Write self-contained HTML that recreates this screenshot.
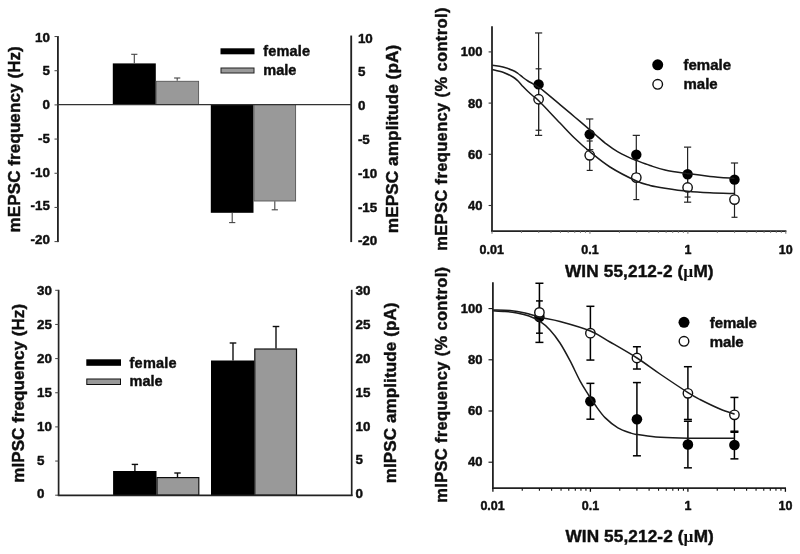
<!DOCTYPE html>
<html><head><meta charset="utf-8"><title>Figure</title>
<style>
html,body{margin:0;padding:0;background:#fff;}
body{width:800px;height:554px;overflow:hidden;font-family:"Liberation Sans",sans-serif;}
svg{display:block;}
text{stroke:#111;stroke-width:0.45px;stroke-linejoin:round;}
</style></head><body>
<svg width="800" height="554" viewBox="0 0 800 554" font-family="Liberation Sans, sans-serif" font-weight="bold">
<defs><filter id="soft" x="0" y="0" width="800" height="554" filterUnits="userSpaceOnUse"><feGaussianBlur stdDeviation="0.45"/></filter></defs>
<rect x="0" y="0" width="800" height="554" fill="#ffffff"/>
<g filter="url(#soft)">
<rect x="0" y="0" width="800" height="554" fill="#ffffff"/>
<rect x="112.80" y="63.40" width="43.00" height="41.20" fill="#000"/>
<rect x="156.20" y="81.30" width="42.40" height="23.30" fill="#999999" stroke="#555" stroke-width="0.9"/>
<rect x="210.80" y="104.60" width="42.70" height="108.20" fill="#000"/>
<rect x="253.90" y="104.60" width="41.70" height="96.40" fill="#999999" stroke="#555" stroke-width="0.9"/>
<line x1="134.30" y1="54.30" x2="134.30" y2="63.30" stroke="#444" stroke-width="1.1" stroke-linecap="butt"/>
<line x1="131.20" y1="54.30" x2="137.40" y2="54.30" stroke="#444" stroke-width="1.1" stroke-linecap="butt"/>
<line x1="177.20" y1="78.00" x2="177.20" y2="80.80" stroke="#444" stroke-width="1.1" stroke-linecap="butt"/>
<line x1="174.10" y1="78.00" x2="180.30" y2="78.00" stroke="#444" stroke-width="1.1" stroke-linecap="butt"/>
<line x1="232.20" y1="222.60" x2="232.20" y2="213.00" stroke="#444" stroke-width="1.1" stroke-linecap="butt"/>
<line x1="229.10" y1="222.60" x2="235.30" y2="222.60" stroke="#444" stroke-width="1.1" stroke-linecap="butt"/>
<line x1="274.80" y1="209.80" x2="274.80" y2="201.30" stroke="#444" stroke-width="1.1" stroke-linecap="butt"/>
<line x1="271.70" y1="209.80" x2="277.90" y2="209.80" stroke="#444" stroke-width="1.1" stroke-linecap="butt"/>
<line x1="57.90" y1="36.05" x2="57.90" y2="242.10" stroke="#222" stroke-width="1.85" stroke-linecap="butt"/>
<line x1="351.20" y1="35.55" x2="351.20" y2="242.10" stroke="#222" stroke-width="1.85" stroke-linecap="butt"/>
<line x1="57.90" y1="104.60" x2="351.20" y2="104.60" stroke="#333" stroke-width="1.2" stroke-linecap="butt"/>
<line x1="54.50" y1="36.55" x2="57.90" y2="36.55" stroke="#444" stroke-width="1" stroke-linecap="butt"/>
<text x="49.90" y="41.65" font-size="13.4" text-anchor="end" fill="#111">10</text>
<text x="357.90" y="42.70" font-size="13.4" text-anchor="start" fill="#111">10</text>
<line x1="54.50" y1="70.72" x2="57.90" y2="70.72" stroke="#444" stroke-width="1" stroke-linecap="butt"/>
<text x="49.90" y="75.40" font-size="13.4" text-anchor="end" fill="#111">5</text>
<text x="357.90" y="76.48" font-size="13.4" text-anchor="start" fill="#111">5</text>
<line x1="54.50" y1="104.90" x2="57.90" y2="104.90" stroke="#444" stroke-width="1" stroke-linecap="butt"/>
<text x="49.90" y="109.15" font-size="13.4" text-anchor="end" fill="#111">0</text>
<text x="357.90" y="110.27" font-size="13.4" text-anchor="start" fill="#111">0</text>
<line x1="54.50" y1="139.07" x2="57.90" y2="139.07" stroke="#444" stroke-width="1" stroke-linecap="butt"/>
<text x="49.90" y="142.90" font-size="13.4" text-anchor="end" fill="#111">-5</text>
<text x="357.90" y="144.05" font-size="13.4" text-anchor="start" fill="#111">-5</text>
<line x1="54.50" y1="173.25" x2="57.90" y2="173.25" stroke="#444" stroke-width="1" stroke-linecap="butt"/>
<text x="49.90" y="176.65" font-size="13.4" text-anchor="end" fill="#111">-10</text>
<text x="357.90" y="177.83" font-size="13.4" text-anchor="start" fill="#111">-10</text>
<line x1="54.50" y1="207.43" x2="57.90" y2="207.43" stroke="#444" stroke-width="1" stroke-linecap="butt"/>
<text x="49.90" y="210.40" font-size="13.4" text-anchor="end" fill="#111">-15</text>
<text x="357.90" y="211.62" font-size="13.4" text-anchor="start" fill="#111">-15</text>
<line x1="54.50" y1="241.60" x2="57.90" y2="241.60" stroke="#444" stroke-width="1" stroke-linecap="butt"/>
<text x="49.90" y="244.15" font-size="13.4" text-anchor="end" fill="#111">-20</text>
<text x="357.90" y="245.40" font-size="13.4" text-anchor="start" fill="#111">-20</text>
<rect x="220.50" y="48.30" width="34.00" height="6.00" fill="#000"/>
<rect x="221.00" y="68.00" width="33.00" height="5.00" fill="#999999" stroke="#222" stroke-width="1"/>
<text x="263.30" y="56.30" font-size="14.5" text-anchor="start" textLength="46.8" lengthAdjust="spacing" fill="#111">female</text>
<text x="263.30" y="75.00" font-size="14.5" text-anchor="start" textLength="33.0" lengthAdjust="spacing" fill="#111">male</text>
<text transform="translate(19.90,232.40) rotate(-90)" font-size="17" textLength="186.2" lengthAdjust="spacing" fill="#111">mEPSC frequency (Hz)</text>
<text transform="translate(398.30,233.20) rotate(-90)" font-size="17.3" textLength="188.4" lengthAdjust="spacing" fill="#111">mEPSC amplitude (pA)</text>
<rect x="113.10" y="471.00" width="43.40" height="24.20" fill="#000"/>
<rect x="157.00" y="477.60" width="41.80" height="17.60" fill="#999999" stroke="#111" stroke-width="1.2"/>
<rect x="211.00" y="360.50" width="43.30" height="134.70" fill="#000"/>
<rect x="254.80" y="349.00" width="41.70" height="146.20" fill="#999999" stroke="#111" stroke-width="1.2"/>
<line x1="134.90" y1="464.40" x2="134.90" y2="471.00" stroke="#111" stroke-width="1.4" stroke-linecap="butt"/>
<line x1="131.70" y1="464.40" x2="138.10" y2="464.40" stroke="#111" stroke-width="1.4" stroke-linecap="butt"/>
<line x1="177.50" y1="473.00" x2="177.50" y2="477.00" stroke="#111" stroke-width="1.4" stroke-linecap="butt"/>
<line x1="174.30" y1="473.00" x2="180.70" y2="473.00" stroke="#111" stroke-width="1.4" stroke-linecap="butt"/>
<line x1="233.00" y1="343.00" x2="233.00" y2="360.50" stroke="#111" stroke-width="1.4" stroke-linecap="butt"/>
<line x1="229.70" y1="343.00" x2="236.30" y2="343.00" stroke="#111" stroke-width="1.4" stroke-linecap="butt"/>
<line x1="276.00" y1="326.50" x2="276.00" y2="348.50" stroke="#111" stroke-width="1.4" stroke-linecap="butt"/>
<line x1="272.70" y1="326.50" x2="279.30" y2="326.50" stroke="#111" stroke-width="1.4" stroke-linecap="butt"/>
<line x1="58.60" y1="289.80" x2="58.60" y2="496.00" stroke="#222" stroke-width="1.7" stroke-linecap="butt"/>
<line x1="351.70" y1="289.80" x2="351.70" y2="496.00" stroke="#222" stroke-width="1.7" stroke-linecap="butt"/>
<line x1="57.80" y1="495.40" x2="352.50" y2="495.40" stroke="#222" stroke-width="1.6" stroke-linecap="butt"/>
<line x1="55.20" y1="290.30" x2="58.60" y2="290.30" stroke="#444" stroke-width="1" stroke-linecap="butt"/>
<text x="37.00" y="295.25" font-size="13.4" text-anchor="start" fill="#111">30</text>
<text x="355.50" y="295.45" font-size="13.4" text-anchor="start" fill="#111">30</text>
<line x1="55.20" y1="324.45" x2="58.60" y2="324.45" stroke="#444" stroke-width="1" stroke-linecap="butt"/>
<text x="37.00" y="329.11" font-size="13.4" text-anchor="start" fill="#111">25</text>
<text x="355.50" y="329.25" font-size="13.4" text-anchor="start" fill="#111">25</text>
<line x1="55.20" y1="358.60" x2="58.60" y2="358.60" stroke="#444" stroke-width="1" stroke-linecap="butt"/>
<text x="37.00" y="362.97" font-size="13.4" text-anchor="start" fill="#111">20</text>
<text x="355.50" y="363.05" font-size="13.4" text-anchor="start" fill="#111">20</text>
<line x1="55.20" y1="392.75" x2="58.60" y2="392.75" stroke="#444" stroke-width="1" stroke-linecap="butt"/>
<text x="37.00" y="396.82" font-size="13.4" text-anchor="start" fill="#111">15</text>
<text x="355.50" y="396.85" font-size="13.4" text-anchor="start" fill="#111">15</text>
<line x1="55.20" y1="426.90" x2="58.60" y2="426.90" stroke="#444" stroke-width="1" stroke-linecap="butt"/>
<text x="37.00" y="430.68" font-size="13.4" text-anchor="start" fill="#111">10</text>
<text x="355.50" y="430.65" font-size="13.4" text-anchor="start" fill="#111">10</text>
<line x1="55.20" y1="461.05" x2="58.60" y2="461.05" stroke="#444" stroke-width="1" stroke-linecap="butt"/>
<text x="37.00" y="464.54" font-size="13.4" text-anchor="start" fill="#111">5</text>
<text x="355.50" y="464.45" font-size="13.4" text-anchor="start" fill="#111">5</text>
<line x1="55.20" y1="495.20" x2="58.60" y2="495.20" stroke="#444" stroke-width="1" stroke-linecap="butt"/>
<text x="37.00" y="498.40" font-size="13.4" text-anchor="start" fill="#111">0</text>
<text x="355.50" y="498.25" font-size="13.4" text-anchor="start" fill="#111">0</text>
<rect x="86.30" y="359.30" width="34.70" height="6.50" fill="#000"/>
<rect x="86.80" y="379.00" width="33.70" height="5.50" fill="#999999" stroke="#111" stroke-width="1"/>
<text x="129.50" y="367.50" font-size="14.5" text-anchor="start" textLength="47.2" lengthAdjust="spacing" fill="#111">female</text>
<text x="129.50" y="386.30" font-size="14.5" text-anchor="start" textLength="33.2" lengthAdjust="spacing" fill="#111">male</text>
<text transform="translate(24.40,482.70) rotate(-90)" font-size="17" textLength="178.8" lengthAdjust="spacing" fill="#111">mIPSC frequency (Hz)</text>
<text transform="translate(396.00,483.30) rotate(-90)" font-size="17" textLength="180.8" lengthAdjust="spacing" fill="#111">mIPSC amplitude (pA)</text>
<line x1="538.60" y1="32.96" x2="538.60" y2="135.36" stroke="#222" stroke-width="1.2" stroke-linecap="butt"/>
<line x1="535.00" y1="32.96" x2="542.20" y2="32.96" stroke="#222" stroke-width="1.2" stroke-linecap="butt"/>
<line x1="535.00" y1="135.36" x2="542.20" y2="135.36" stroke="#222" stroke-width="1.2" stroke-linecap="butt"/>
<line x1="538.60" y1="68.80" x2="538.60" y2="130.24" stroke="#222" stroke-width="1.2" stroke-linecap="butt"/>
<line x1="535.60" y1="68.80" x2="541.60" y2="68.80" stroke="#222" stroke-width="1.2" stroke-linecap="butt"/>
<line x1="535.60" y1="130.24" x2="541.60" y2="130.24" stroke="#222" stroke-width="1.2" stroke-linecap="butt"/>
<line x1="589.70" y1="118.97" x2="589.70" y2="149.69" stroke="#222" stroke-width="1.2" stroke-linecap="butt"/>
<line x1="586.10" y1="118.97" x2="593.30" y2="118.97" stroke="#222" stroke-width="1.2" stroke-linecap="butt"/>
<line x1="586.10" y1="149.69" x2="593.30" y2="149.69" stroke="#222" stroke-width="1.2" stroke-linecap="butt"/>
<line x1="589.70" y1="140.99" x2="589.70" y2="170.43" stroke="#222" stroke-width="1.2" stroke-linecap="butt"/>
<line x1="586.70" y1="140.99" x2="592.70" y2="140.99" stroke="#222" stroke-width="1.2" stroke-linecap="butt"/>
<line x1="586.70" y1="170.43" x2="592.70" y2="170.43" stroke="#222" stroke-width="1.2" stroke-linecap="butt"/>
<line x1="636.30" y1="135.36" x2="636.30" y2="173.76" stroke="#222" stroke-width="1.2" stroke-linecap="butt"/>
<line x1="632.70" y1="135.36" x2="639.90" y2="135.36" stroke="#222" stroke-width="1.2" stroke-linecap="butt"/>
<line x1="632.70" y1="173.76" x2="639.90" y2="173.76" stroke="#222" stroke-width="1.2" stroke-linecap="butt"/>
<line x1="636.30" y1="155.32" x2="636.30" y2="199.61" stroke="#222" stroke-width="1.2" stroke-linecap="butt"/>
<line x1="633.30" y1="155.32" x2="639.30" y2="155.32" stroke="#222" stroke-width="1.2" stroke-linecap="butt"/>
<line x1="633.30" y1="199.61" x2="639.30" y2="199.61" stroke="#222" stroke-width="1.2" stroke-linecap="butt"/>
<line x1="687.60" y1="147.13" x2="687.60" y2="202.17" stroke="#222" stroke-width="1.2" stroke-linecap="butt"/>
<line x1="684.00" y1="147.13" x2="691.20" y2="147.13" stroke="#222" stroke-width="1.2" stroke-linecap="butt"/>
<line x1="684.00" y1="202.17" x2="691.20" y2="202.17" stroke="#222" stroke-width="1.2" stroke-linecap="butt"/>
<line x1="687.60" y1="177.60" x2="687.60" y2="197.05" stroke="#222" stroke-width="1.2" stroke-linecap="butt"/>
<line x1="684.60" y1="177.60" x2="690.60" y2="177.60" stroke="#222" stroke-width="1.2" stroke-linecap="butt"/>
<line x1="684.60" y1="197.05" x2="690.60" y2="197.05" stroke="#222" stroke-width="1.2" stroke-linecap="butt"/>
<line x1="734.50" y1="163.00" x2="734.50" y2="196.28" stroke="#222" stroke-width="1.2" stroke-linecap="butt"/>
<line x1="730.90" y1="163.00" x2="738.10" y2="163.00" stroke="#222" stroke-width="1.2" stroke-linecap="butt"/>
<line x1="730.90" y1="196.28" x2="738.10" y2="196.28" stroke="#222" stroke-width="1.2" stroke-linecap="butt"/>
<line x1="734.50" y1="181.95" x2="734.50" y2="217.28" stroke="#222" stroke-width="1.2" stroke-linecap="butt"/>
<line x1="731.50" y1="181.95" x2="737.50" y2="181.95" stroke="#222" stroke-width="1.2" stroke-linecap="butt"/>
<line x1="731.50" y1="217.28" x2="737.50" y2="217.28" stroke="#222" stroke-width="1.2" stroke-linecap="butt"/>
<circle cx="538.60" cy="84.41" r="5.2" fill="#000"/>
<circle cx="589.70" cy="134.33" r="5.2" fill="#000"/>
<circle cx="636.30" cy="154.68" r="5.2" fill="#000"/>
<circle cx="687.60" cy="174.27" r="5.2" fill="#000"/>
<circle cx="734.50" cy="179.64" r="5.2" fill="#000"/>
<circle cx="538.60" cy="99.26" r="4.7" fill="#fff" stroke="#111" stroke-width="1.4"/>
<circle cx="589.70" cy="155.32" r="4.7" fill="#fff" stroke="#111" stroke-width="1.4"/>
<circle cx="636.30" cy="177.60" r="4.7" fill="#fff" stroke="#111" stroke-width="1.4"/>
<circle cx="687.60" cy="187.45" r="4.7" fill="#fff" stroke="#111" stroke-width="1.4"/>
<circle cx="734.50" cy="199.61" r="4.7" fill="#fff" stroke="#111" stroke-width="1.4"/>
<path d="M492.10,65.30 C493.92,65.58 499.52,66.13 503.00,67.00 C506.48,67.87 510.50,69.42 513.00,70.50 C515.50,71.58 516.33,72.33 518.00,73.50 C519.67,74.67 521.33,76.25 523.00,77.50 C524.67,78.75 526.33,79.95 528.00,81.00 C529.67,82.05 531.25,82.75 533.00,83.80 C534.75,84.85 536.83,86.20 538.50,87.30 C540.17,88.40 539.42,87.52 543.00,90.40 C546.58,93.28 554.67,100.13 560.00,104.60 C565.33,109.07 570.07,113.03 575.00,117.20 C579.93,121.37 586.13,126.63 589.60,129.60 C593.07,132.57 592.97,132.57 595.80,135.00 C598.63,137.43 602.98,141.42 606.60,144.20 C610.22,146.98 613.88,149.55 617.50,151.70 C621.12,153.85 625.23,155.68 628.30,157.10 C631.37,158.52 632.28,158.80 635.90,160.20 C639.52,161.60 645.15,163.87 650.00,165.50 C654.85,167.13 658.73,168.65 665.00,170.00 C671.27,171.35 680.10,172.53 687.60,173.60 C695.10,174.67 702.18,175.60 710.00,176.40 C717.82,177.20 730.42,178.07 734.50,178.40" fill="none" stroke="#1a1a1a" stroke-width="1.5" stroke-linejoin="round"/>
<path d="M492.10,69.50 C493.92,69.95 499.52,70.95 503.00,72.20 C506.48,73.45 510.50,75.53 513.00,77.00 C515.50,78.47 516.33,79.42 518.00,81.00 C519.67,82.58 521.33,84.75 523.00,86.50 C524.67,88.25 526.33,89.92 528.00,91.50 C529.67,93.08 531.25,94.50 533.00,96.00 C534.75,97.50 534.00,96.00 538.50,100.50 C543.00,105.00 553.92,116.67 560.00,123.00 C566.08,129.33 570.07,133.75 575.00,138.50 C579.93,143.25 583.77,146.75 589.60,151.50 C595.43,156.25 602.20,162.08 610.00,167.00 C617.80,171.92 629.73,177.93 636.40,181.00 C643.07,184.07 645.23,184.20 650.00,185.40 C654.77,186.60 658.73,187.22 665.00,188.20 C671.27,189.18 680.10,190.53 687.60,191.30 C695.10,192.07 702.18,192.43 710.00,192.80 C717.82,193.17 730.42,193.38 734.50,193.50" fill="none" stroke="#1a1a1a" stroke-width="1.5" stroke-linejoin="round"/>
<line x1="492.00" y1="26.20" x2="492.00" y2="232.00" stroke="#222" stroke-width="1.8" stroke-linecap="butt"/>
<line x1="488.60" y1="51.90" x2="492.00" y2="51.90" stroke="#333" stroke-width="1.1" stroke-linecap="butt"/>
<text x="482.40" y="56.40" font-size="13" text-anchor="end" fill="#111">100</text>
<line x1="488.60" y1="103.10" x2="492.00" y2="103.10" stroke="#333" stroke-width="1.1" stroke-linecap="butt"/>
<text x="482.40" y="107.60" font-size="13" text-anchor="end" fill="#111">80</text>
<line x1="488.60" y1="154.30" x2="492.00" y2="154.30" stroke="#333" stroke-width="1.1" stroke-linecap="butt"/>
<text x="482.40" y="158.80" font-size="13" text-anchor="end" fill="#111">60</text>
<line x1="488.60" y1="205.50" x2="492.00" y2="205.50" stroke="#333" stroke-width="1.1" stroke-linecap="butt"/>
<text x="482.40" y="210.00" font-size="13" text-anchor="end" fill="#111">40</text>
<line x1="491.10" y1="231.20" x2="786.40" y2="231.20" stroke="#222" stroke-width="1.7" stroke-linecap="butt"/>
<line x1="492.00" y1="231.20" x2="492.00" y2="233.80" stroke="#777" stroke-width="1.1" stroke-linecap="butt"/>
<line x1="521.48" y1="231.20" x2="521.48" y2="233.00" stroke="#777" stroke-width="0.9" stroke-linecap="butt"/>
<line x1="538.73" y1="231.20" x2="538.73" y2="233.00" stroke="#777" stroke-width="0.9" stroke-linecap="butt"/>
<line x1="550.96" y1="231.20" x2="550.96" y2="233.00" stroke="#777" stroke-width="0.9" stroke-linecap="butt"/>
<line x1="560.45" y1="231.20" x2="560.45" y2="233.00" stroke="#777" stroke-width="0.9" stroke-linecap="butt"/>
<line x1="568.21" y1="231.20" x2="568.21" y2="233.00" stroke="#777" stroke-width="0.9" stroke-linecap="butt"/>
<line x1="574.76" y1="231.20" x2="574.76" y2="233.00" stroke="#777" stroke-width="0.9" stroke-linecap="butt"/>
<line x1="580.44" y1="231.20" x2="580.44" y2="233.00" stroke="#777" stroke-width="0.9" stroke-linecap="butt"/>
<line x1="585.45" y1="231.20" x2="585.45" y2="233.00" stroke="#777" stroke-width="0.9" stroke-linecap="butt"/>
<line x1="589.93" y1="231.20" x2="589.93" y2="233.80" stroke="#777" stroke-width="1.1" stroke-linecap="butt"/>
<line x1="619.41" y1="231.20" x2="619.41" y2="233.00" stroke="#777" stroke-width="0.9" stroke-linecap="butt"/>
<line x1="636.66" y1="231.20" x2="636.66" y2="233.00" stroke="#777" stroke-width="0.9" stroke-linecap="butt"/>
<line x1="648.90" y1="231.20" x2="648.90" y2="233.00" stroke="#777" stroke-width="0.9" stroke-linecap="butt"/>
<line x1="658.39" y1="231.20" x2="658.39" y2="233.00" stroke="#777" stroke-width="0.9" stroke-linecap="butt"/>
<line x1="666.14" y1="231.20" x2="666.14" y2="233.00" stroke="#777" stroke-width="0.9" stroke-linecap="butt"/>
<line x1="672.70" y1="231.20" x2="672.70" y2="233.00" stroke="#777" stroke-width="0.9" stroke-linecap="butt"/>
<line x1="678.38" y1="231.20" x2="678.38" y2="233.00" stroke="#777" stroke-width="0.9" stroke-linecap="butt"/>
<line x1="683.39" y1="231.20" x2="683.39" y2="233.00" stroke="#777" stroke-width="0.9" stroke-linecap="butt"/>
<line x1="687.87" y1="231.20" x2="687.87" y2="233.80" stroke="#777" stroke-width="1.1" stroke-linecap="butt"/>
<line x1="717.35" y1="231.20" x2="717.35" y2="233.00" stroke="#777" stroke-width="0.9" stroke-linecap="butt"/>
<line x1="734.59" y1="231.20" x2="734.59" y2="233.00" stroke="#777" stroke-width="0.9" stroke-linecap="butt"/>
<line x1="746.83" y1="231.20" x2="746.83" y2="233.00" stroke="#777" stroke-width="0.9" stroke-linecap="butt"/>
<line x1="756.32" y1="231.20" x2="756.32" y2="233.00" stroke="#777" stroke-width="0.9" stroke-linecap="butt"/>
<line x1="764.07" y1="231.20" x2="764.07" y2="233.00" stroke="#777" stroke-width="0.9" stroke-linecap="butt"/>
<line x1="770.63" y1="231.20" x2="770.63" y2="233.00" stroke="#777" stroke-width="0.9" stroke-linecap="butt"/>
<line x1="776.31" y1="231.20" x2="776.31" y2="233.00" stroke="#777" stroke-width="0.9" stroke-linecap="butt"/>
<line x1="781.32" y1="231.20" x2="781.32" y2="233.00" stroke="#777" stroke-width="0.9" stroke-linecap="butt"/>
<line x1="785.80" y1="231.20" x2="785.80" y2="233.80" stroke="#777" stroke-width="1.1" stroke-linecap="butt"/>
<text x="491.70" y="253.60" font-size="12.5" text-anchor="middle" fill="#111">0.01</text>
<text x="589.93" y="253.60" font-size="12.5" text-anchor="middle" fill="#111">0.1</text>
<text x="687.87" y="253.60" font-size="12.5" text-anchor="middle" fill="#111">1</text>
<text x="785.80" y="253.60" font-size="12.5" text-anchor="middle" fill="#111">10</text>
<text x="565.0" y="276.9" font-size="17.2" textLength="148.6" lengthAdjust="spacing" fill="#111">WIN 55,212-2 (<tspan font-family="Liberation Serif, serif" font-weight="bold" font-size="17.5" stroke-width="0">μ</tspan>M)</text>
<circle cx="657.70" cy="64.80" r="5.5" fill="#000"/>
<circle cx="657.70" cy="84.30" r="4.8" fill="#fff" stroke="#111" stroke-width="1.4"/>
<text x="683.50" y="69.50" font-size="15" text-anchor="start" textLength="47.5" lengthAdjust="spacing" fill="#111">female</text>
<text x="683.50" y="88.80" font-size="15" text-anchor="start" textLength="34.2" lengthAdjust="spacing" fill="#111">male</text>
<text transform="translate(447.40,250.80) rotate(-90)" font-size="16.5" textLength="243.2" lengthAdjust="spacing" fill="#111">mEPSC frequency (% control)</text>
<line x1="539.42" y1="300.92" x2="539.42" y2="333.18" stroke="#000" stroke-width="1.5" stroke-linecap="butt"/>
<line x1="536.02" y1="300.92" x2="542.82" y2="300.92" stroke="#000" stroke-width="1.5" stroke-linecap="butt"/>
<line x1="536.02" y1="333.18" x2="542.82" y2="333.18" stroke="#000" stroke-width="1.5" stroke-linecap="butt"/>
<line x1="539.42" y1="283.26" x2="539.42" y2="342.39" stroke="#000" stroke-width="1.5" stroke-linecap="butt"/>
<line x1="535.42" y1="283.26" x2="543.42" y2="283.26" stroke="#000" stroke-width="1.5" stroke-linecap="butt"/>
<line x1="535.42" y1="342.39" x2="543.42" y2="342.39" stroke="#000" stroke-width="1.5" stroke-linecap="butt"/>
<line x1="590.40" y1="383.35" x2="590.40" y2="419.19" stroke="#000" stroke-width="1.5" stroke-linecap="butt"/>
<line x1="586.40" y1="383.35" x2="594.40" y2="383.35" stroke="#000" stroke-width="1.5" stroke-linecap="butt"/>
<line x1="586.40" y1="419.19" x2="594.40" y2="419.19" stroke="#000" stroke-width="1.5" stroke-linecap="butt"/>
<line x1="590.40" y1="306.30" x2="590.40" y2="360.06" stroke="#000" stroke-width="1.5" stroke-linecap="butt"/>
<line x1="586.40" y1="306.30" x2="594.40" y2="306.30" stroke="#000" stroke-width="1.5" stroke-linecap="butt"/>
<line x1="586.40" y1="360.06" x2="594.40" y2="360.06" stroke="#000" stroke-width="1.5" stroke-linecap="butt"/>
<line x1="636.92" y1="382.58" x2="636.92" y2="455.80" stroke="#000" stroke-width="1.5" stroke-linecap="butt"/>
<line x1="632.92" y1="382.58" x2="640.92" y2="382.58" stroke="#000" stroke-width="1.5" stroke-linecap="butt"/>
<line x1="632.92" y1="455.80" x2="640.92" y2="455.80" stroke="#000" stroke-width="1.5" stroke-linecap="butt"/>
<line x1="636.92" y1="346.74" x2="636.92" y2="369.02" stroke="#000" stroke-width="1.5" stroke-linecap="butt"/>
<line x1="632.92" y1="346.74" x2="640.92" y2="346.74" stroke="#000" stroke-width="1.5" stroke-linecap="butt"/>
<line x1="632.92" y1="369.02" x2="640.92" y2="369.02" stroke="#000" stroke-width="1.5" stroke-linecap="butt"/>
<line x1="687.90" y1="421.24" x2="687.90" y2="467.83" stroke="#000" stroke-width="1.5" stroke-linecap="butt"/>
<line x1="683.90" y1="421.24" x2="691.90" y2="421.24" stroke="#000" stroke-width="1.5" stroke-linecap="butt"/>
<line x1="683.90" y1="467.83" x2="691.90" y2="467.83" stroke="#000" stroke-width="1.5" stroke-linecap="butt"/>
<line x1="687.90" y1="366.71" x2="687.90" y2="419.45" stroke="#000" stroke-width="1.5" stroke-linecap="butt"/>
<line x1="683.90" y1="366.71" x2="691.90" y2="366.71" stroke="#000" stroke-width="1.5" stroke-linecap="butt"/>
<line x1="683.90" y1="419.45" x2="691.90" y2="419.45" stroke="#000" stroke-width="1.5" stroke-linecap="butt"/>
<line x1="734.42" y1="431.22" x2="734.42" y2="458.87" stroke="#000" stroke-width="1.5" stroke-linecap="butt"/>
<line x1="730.42" y1="431.22" x2="738.42" y2="431.22" stroke="#000" stroke-width="1.5" stroke-linecap="butt"/>
<line x1="730.42" y1="458.87" x2="738.42" y2="458.87" stroke="#000" stroke-width="1.5" stroke-linecap="butt"/>
<line x1="734.42" y1="397.43" x2="734.42" y2="432.25" stroke="#000" stroke-width="1.5" stroke-linecap="butt"/>
<line x1="730.42" y1="397.43" x2="738.42" y2="397.43" stroke="#000" stroke-width="1.5" stroke-linecap="butt"/>
<line x1="730.42" y1="432.25" x2="738.42" y2="432.25" stroke="#000" stroke-width="1.5" stroke-linecap="butt"/>
<circle cx="539.42" cy="317.05" r="5.3" fill="#000"/>
<circle cx="590.40" cy="401.27" r="5.3" fill="#000"/>
<circle cx="636.92" cy="419.19" r="5.3" fill="#000"/>
<circle cx="687.90" cy="444.54" r="5.3" fill="#000"/>
<circle cx="734.42" cy="445.05" r="5.3" fill="#000"/>
<circle cx="539.42" cy="312.44" r="4.7" fill="#fff" stroke="#111" stroke-width="1.4"/>
<circle cx="590.40" cy="333.18" r="4.7" fill="#fff" stroke="#111" stroke-width="1.4"/>
<circle cx="636.92" cy="358.01" r="4.7" fill="#fff" stroke="#111" stroke-width="1.4"/>
<circle cx="687.90" cy="393.34" r="4.7" fill="#fff" stroke="#111" stroke-width="1.4"/>
<circle cx="734.42" cy="414.84" r="4.7" fill="#fff" stroke="#111" stroke-width="1.4"/>
<path d="M493.00,310.81 C495.00,310.93 501.00,311.15 505.00,311.51 C509.00,311.87 513.00,312.23 517.00,312.98 C521.00,313.73 525.17,314.62 529.00,316.03 C532.83,317.44 536.50,319.12 540.00,321.43 C543.50,323.75 546.67,326.32 550.00,329.91 C553.33,333.50 556.67,337.85 560.00,342.98 C563.33,348.11 566.67,354.36 570.00,360.67 C573.33,366.98 577.07,375.36 580.00,380.82 C582.93,386.27 585.07,389.37 587.60,393.40 C590.13,397.43 592.25,400.92 595.20,405.00 C598.15,409.08 601.52,414.10 605.30,417.90 C609.08,421.70 613.68,425.28 617.90,427.80 C622.12,430.32 627.33,431.87 630.60,433.00 C633.87,434.13 633.28,433.95 637.50,434.60 C641.72,435.25 648.82,436.33 655.90,436.90 C662.98,437.47 671.82,437.78 680.00,438.00 C688.18,438.22 695.90,438.17 705.00,438.20 C714.10,438.23 729.67,438.20 734.60,438.20" fill="none" stroke="#1a1a1a" stroke-width="1.5" stroke-linejoin="round"/>
<path d="M493.00,310.00 C495.83,310.10 504.67,310.10 510.00,310.60 C515.33,311.10 520.00,311.88 525.00,313.00 C530.00,314.12 534.17,315.88 540.00,317.30 C545.83,318.72 551.60,319.22 560.00,321.50 C568.40,323.78 582.07,327.58 590.40,331.00 C598.73,334.42 602.23,337.50 610.00,342.00 C617.77,346.50 628.67,352.67 637.00,358.00 C645.33,363.33 651.50,368.23 660.00,374.00 C668.50,379.77 681.33,388.35 688.00,392.60 C694.67,396.85 694.67,396.77 700.00,399.50 C705.33,402.23 714.23,406.55 720.00,409.00 C725.77,411.45 732.17,413.33 734.60,414.20" fill="none" stroke="#1a1a1a" stroke-width="1.5" stroke-linejoin="round"/>
<line x1="492.90" y1="282.20" x2="492.90" y2="489.00" stroke="#222" stroke-width="1.8" stroke-linecap="butt"/>
<line x1="488.50" y1="308.60" x2="492.90" y2="308.60" stroke="#111" stroke-width="1.1" stroke-linecap="butt"/>
<text x="482.40" y="312.70" font-size="13" text-anchor="end" fill="#111">100</text>
<line x1="488.50" y1="359.80" x2="492.90" y2="359.80" stroke="#111" stroke-width="1.1" stroke-linecap="butt"/>
<text x="482.40" y="363.90" font-size="13" text-anchor="end" fill="#111">80</text>
<line x1="488.50" y1="411.00" x2="492.90" y2="411.00" stroke="#111" stroke-width="1.1" stroke-linecap="butt"/>
<text x="482.40" y="415.10" font-size="13" text-anchor="end" fill="#111">60</text>
<line x1="488.50" y1="462.20" x2="492.90" y2="462.20" stroke="#111" stroke-width="1.1" stroke-linecap="butt"/>
<text x="482.40" y="466.30" font-size="13" text-anchor="end" fill="#111">40</text>
<line x1="492.00" y1="488.20" x2="786.00" y2="488.20" stroke="#222" stroke-width="1.7" stroke-linecap="butt"/>
<line x1="492.90" y1="488.20" x2="492.90" y2="491.80" stroke="#111" stroke-width="1.3" stroke-linecap="butt"/>
<line x1="522.25" y1="488.20" x2="522.25" y2="490.80" stroke="#111" stroke-width="1.1" stroke-linecap="butt"/>
<line x1="539.42" y1="488.20" x2="539.42" y2="490.80" stroke="#111" stroke-width="1.1" stroke-linecap="butt"/>
<line x1="551.60" y1="488.20" x2="551.60" y2="490.80" stroke="#111" stroke-width="1.1" stroke-linecap="butt"/>
<line x1="561.05" y1="488.20" x2="561.05" y2="490.80" stroke="#111" stroke-width="1.1" stroke-linecap="butt"/>
<line x1="568.77" y1="488.20" x2="568.77" y2="490.80" stroke="#111" stroke-width="1.1" stroke-linecap="butt"/>
<line x1="575.30" y1="488.20" x2="575.30" y2="490.80" stroke="#111" stroke-width="1.1" stroke-linecap="butt"/>
<line x1="580.95" y1="488.20" x2="580.95" y2="490.80" stroke="#111" stroke-width="1.1" stroke-linecap="butt"/>
<line x1="585.94" y1="488.20" x2="585.94" y2="490.80" stroke="#111" stroke-width="1.1" stroke-linecap="butt"/>
<line x1="590.40" y1="488.20" x2="590.40" y2="491.80" stroke="#111" stroke-width="1.3" stroke-linecap="butt"/>
<line x1="619.75" y1="488.20" x2="619.75" y2="490.80" stroke="#111" stroke-width="1.1" stroke-linecap="butt"/>
<line x1="636.92" y1="488.20" x2="636.92" y2="490.80" stroke="#111" stroke-width="1.1" stroke-linecap="butt"/>
<line x1="649.10" y1="488.20" x2="649.10" y2="490.80" stroke="#111" stroke-width="1.1" stroke-linecap="butt"/>
<line x1="658.55" y1="488.20" x2="658.55" y2="490.80" stroke="#111" stroke-width="1.1" stroke-linecap="butt"/>
<line x1="666.27" y1="488.20" x2="666.27" y2="490.80" stroke="#111" stroke-width="1.1" stroke-linecap="butt"/>
<line x1="672.80" y1="488.20" x2="672.80" y2="490.80" stroke="#111" stroke-width="1.1" stroke-linecap="butt"/>
<line x1="678.45" y1="488.20" x2="678.45" y2="490.80" stroke="#111" stroke-width="1.1" stroke-linecap="butt"/>
<line x1="683.44" y1="488.20" x2="683.44" y2="490.80" stroke="#111" stroke-width="1.1" stroke-linecap="butt"/>
<line x1="687.90" y1="488.20" x2="687.90" y2="491.80" stroke="#111" stroke-width="1.3" stroke-linecap="butt"/>
<line x1="717.25" y1="488.20" x2="717.25" y2="490.80" stroke="#111" stroke-width="1.1" stroke-linecap="butt"/>
<line x1="734.42" y1="488.20" x2="734.42" y2="490.80" stroke="#111" stroke-width="1.1" stroke-linecap="butt"/>
<line x1="746.60" y1="488.20" x2="746.60" y2="490.80" stroke="#111" stroke-width="1.1" stroke-linecap="butt"/>
<line x1="756.05" y1="488.20" x2="756.05" y2="490.80" stroke="#111" stroke-width="1.1" stroke-linecap="butt"/>
<line x1="763.77" y1="488.20" x2="763.77" y2="490.80" stroke="#111" stroke-width="1.1" stroke-linecap="butt"/>
<line x1="770.30" y1="488.20" x2="770.30" y2="490.80" stroke="#111" stroke-width="1.1" stroke-linecap="butt"/>
<line x1="775.95" y1="488.20" x2="775.95" y2="490.80" stroke="#111" stroke-width="1.1" stroke-linecap="butt"/>
<line x1="780.94" y1="488.20" x2="780.94" y2="490.80" stroke="#111" stroke-width="1.1" stroke-linecap="butt"/>
<line x1="785.40" y1="488.20" x2="785.40" y2="491.80" stroke="#111" stroke-width="1.3" stroke-linecap="butt"/>
<text x="492.60" y="509.90" font-size="12.5" text-anchor="middle" fill="#111">0.01</text>
<text x="590.40" y="509.90" font-size="12.5" text-anchor="middle" fill="#111">0.1</text>
<text x="687.90" y="509.90" font-size="12.5" text-anchor="middle" fill="#111">1</text>
<text x="785.40" y="509.90" font-size="12.5" text-anchor="middle" fill="#111">10</text>
<text x="565.4" y="541.9" font-size="17.2" textLength="148.4" lengthAdjust="spacing" fill="#111">WIN 55,212-2 (<tspan font-family="Liberation Serif, serif" font-weight="bold" font-size="17.5" stroke-width="0">μ</tspan>M)</text>
<circle cx="684.00" cy="322.30" r="5.5" fill="#000"/>
<circle cx="684.00" cy="341.30" r="4.8" fill="#fff" stroke="#111" stroke-width="1.4"/>
<text x="709.80" y="327.50" font-size="15" text-anchor="start" textLength="47.0" lengthAdjust="spacing" fill="#111">female</text>
<text x="709.80" y="346.70" font-size="15" text-anchor="start" textLength="33.8" lengthAdjust="spacing" fill="#111">male</text>
<text transform="translate(447.40,502.70) rotate(-90)" font-size="16.5" textLength="235.8" lengthAdjust="spacing" fill="#111">mIPSC frequency (% control)</text>
</g>
</svg>
</body></html>
